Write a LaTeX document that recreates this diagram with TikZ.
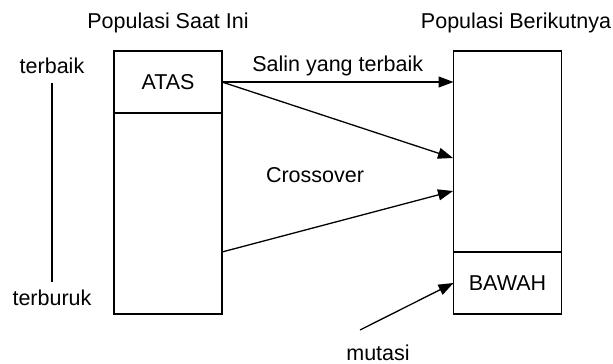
\documentclass[tikz,border=0pt]{standalone}
\usepackage{fontspec}
\setmainfont{Liberation Sans}
\usetikzlibrary{arrows.meta,positioning}

\begin{document}
\begin{tikzpicture}[x=1pt,y=-1pt,line width=1.3pt,
  every node/.style={font=\fontsize{21.5}{24}\selectfont},
  part/.style={draw,minimum width=108pt,inner sep=0pt,outer sep=0pt},
  arr/.style={-{Triangle[length=15pt,width=11pt]}}]
\useasboundingbox (0,0) rectangle (613,364);

% Titles
\node[anchor=base] (curtitle) at (168,28) {Populasi Saat Ini};
\node[anchor=base] (nexttitle) at (516,28) {Populasi Berikutnya};

% Ranking
\node[anchor=base] (best) at (52,73) {terbaik};
\node[anchor=base] (worst) at (52,305) {terburuk};
\draw[shorten <=6pt,shorten >=3pt] (best.south) -- (worst.north);

% Current population
\node[part,minimum height=62pt] (atas) at (168,82) {ATAS};
\node[part,minimum height=201pt,below=0pt of atas] (currest) {};

% Next population
\node[part,minimum height=201pt] (nextrest) at (507.5,151.5) {};
\node[part,minimum height=62pt,below=0pt of nextrest] (bawah) {BAWAH};

% Connectors
\coordinate (crossa) at (453,158);
\coordinate (crossb) at (453,191);
\coordinate (crossfrom) at (222,252);
\coordinate (mutfrom) at (360,330);

\draw[arr] (atas.east) -- (atas.east -| nextrest.west)
    node[midway,above=2pt] {Salin yang terbaik};
\draw[arr] (atas.east) -- (crossa);
\draw[arr] (crossfrom) -- (crossb);
\draw[arr] (mutfrom) -- (bawah.west);

\node[anchor=base] (crosslabel) at (315,182) {Crossover};
\node[anchor=base] (mutlabel) at (378,360) {mutasi};
\end{tikzpicture}
\end{document}
